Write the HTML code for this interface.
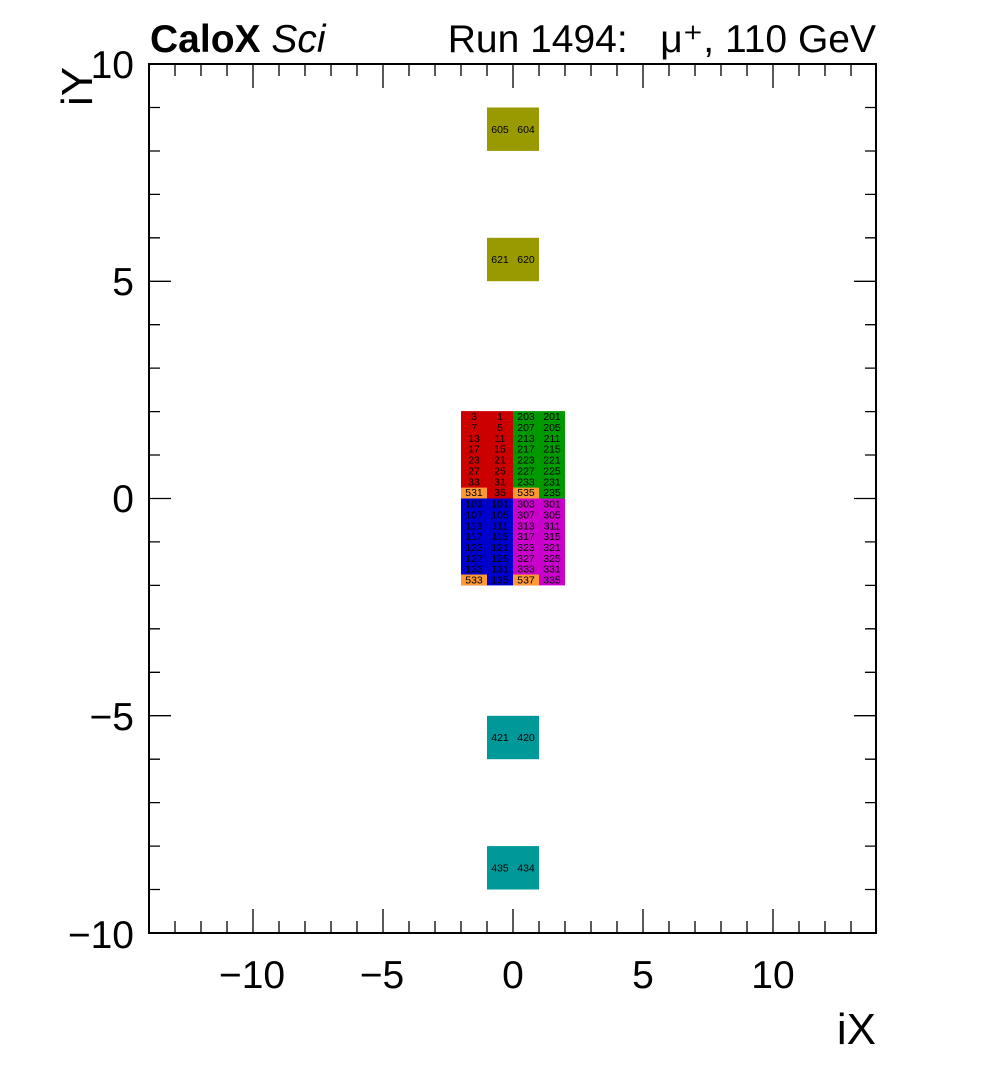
<!DOCTYPE html>
<html><head><meta charset="utf-8"><style>
body{margin:0;background:#fff;width:996px;height:1072px;overflow:hidden}
svg{display:block}
text{font-family:"Liberation Sans",sans-serif}
.c text{font-size:10.5px;text-anchor:middle;fill:#000}
</style></head><body>
<svg width="996" height="1072" viewBox="0 0 996 1072">
<rect x="0" y="0" width="996" height="1072" fill="#fff"/>
<rect x="487" y="107.5" width="52" height="43.4" fill="#999900"/>
<rect x="487" y="237.8" width="52" height="43.4" fill="#999900"/>
<rect x="487" y="715.8" width="52" height="43.4" fill="#009999"/>
<rect x="487" y="846.1" width="52" height="43.4" fill="#009999"/>
<rect x="461" y="411.1" width="52" height="87.4" fill="#cc0000"/>
<rect x="513" y="411.1" width="52" height="87.4" fill="#009900"/>
<rect x="461" y="498.5" width="52" height="86.9" fill="#0000cc"/>
<rect x="513" y="498.5" width="52" height="86.9" fill="#cc00cc"/>
<rect x="461" y="487.6" width="26" height="10.9" fill="#ff9933"/>
<rect x="513" y="487.6" width="26" height="10.9" fill="#ff9933"/>
<rect x="461" y="574.5" width="26" height="10.9" fill="#ff9933"/>
<rect x="513" y="574.5" width="26" height="10.9" fill="#ff9933"/>
<g class="c">
<text x="500" y="132.8">605</text><text x="526" y="132.8">604</text>
<text x="500" y="263.1">621</text><text x="526" y="263.1">620</text>
<text x="500" y="741.1">421</text><text x="526" y="741.1">420</text>
<text x="500" y="871.4">435</text><text x="526" y="871.4">434</text>
<g transform="translate(0,3.6)">
<text x="474" y="416.5">3</text><text x="500" y="416.5">1</text><text x="526" y="416.5">203</text><text x="552" y="416.5">201</text>
<text x="474" y="427.4">7</text><text x="500" y="427.4">5</text><text x="526" y="427.4">207</text><text x="552" y="427.4">205</text>
<text x="474" y="438.3">13</text><text x="500" y="438.3">11</text><text x="526" y="438.3">213</text><text x="552" y="438.3">211</text>
<text x="474" y="449.1">17</text><text x="500" y="449.1">15</text><text x="526" y="449.1">217</text><text x="552" y="449.1">215</text>
<text x="474" y="460.0">23</text><text x="500" y="460.0">21</text><text x="526" y="460.0">223</text><text x="552" y="460.0">221</text>
<text x="474" y="470.9">27</text><text x="500" y="470.9">25</text><text x="526" y="470.9">227</text><text x="552" y="470.9">225</text>
<text x="474" y="481.7">33</text><text x="500" y="481.7">31</text><text x="526" y="481.7">233</text><text x="552" y="481.7">231</text>
<text x="474" y="492.6">531</text><text x="500" y="492.6">35</text><text x="526" y="492.6">535</text><text x="552" y="492.6">235</text>
<text x="474" y="503.9">103</text><text x="500" y="503.9">101</text><text x="526" y="503.9">303</text><text x="552" y="503.9">301</text>
<text x="474" y="514.8">107</text><text x="500" y="514.8">105</text><text x="526" y="514.8">307</text><text x="552" y="514.8">305</text>
<text x="474" y="525.7">113</text><text x="500" y="525.7">111</text><text x="526" y="525.7">313</text><text x="552" y="525.7">311</text>
<text x="474" y="536.5">117</text><text x="500" y="536.5">115</text><text x="526" y="536.5">317</text><text x="552" y="536.5">315</text>
<text x="474" y="547.4">123</text><text x="500" y="547.4">121</text><text x="526" y="547.4">323</text><text x="552" y="547.4">321</text>
<text x="474" y="558.3">127</text><text x="500" y="558.3">125</text><text x="526" y="558.3">327</text><text x="552" y="558.3">325</text>
<text x="474" y="569.1">133</text><text x="500" y="569.1">131</text><text x="526" y="569.1">333</text><text x="552" y="569.1">331</text>
<text x="474" y="580.0">533</text><text x="500" y="580.0">135</text><text x="526" y="580.0">537</text><text x="552" y="580.0">335</text>
</g></g>
<rect x="149" y="64" width="727" height="869" fill="none" stroke="#000" stroke-width="2"/>
<g stroke="#000" stroke-width="1.3">
<path d="M175,933v-12M201,933v-12M227,933v-12M253,933v-24M279,933v-12M305,933v-12M331,933v-12M357,933v-12M383,933v-24M409,933v-12M435,933v-12M461,933v-12M487,933v-12M513,933v-24M539,933v-12M565,933v-12M591,933v-12M617,933v-12M643,933v-24M669,933v-12M695,933v-12M721,933v-12M747,933v-12M773,933v-24M799,933v-12M825,933v-12M851,933v-12"/>
<path d="M175,64v12M201,64v12M227,64v12M253,64v24M279,64v12M305,64v12M331,64v12M357,64v12M383,64v24M409,64v12M435,64v12M461,64v12M487,64v12M513,64v24M539,64v12M565,64v12M591,64v12M617,64v12M643,64v24M669,64v12M695,64v12M721,64v12M747,64v12M773,64v24M799,64v12M825,64v12M851,64v12"/>
<path d="M149,107.5h11M149,151h11M149,194.4h11M149,237.8h11M149,281.3h22M149,324.7h11M149,368.1h11M149,411.6h11M149,455h11M149,498.5h22M149,541.9h11M149,585.4h11M149,628.8h11M149,672.3h11M149,715.7h22M149,759.2h11M149,802.6h11M149,846.1h11M149,889.5h11"/>
<path d="M876,107.5h-11M876,151h-11M876,194.4h-11M876,237.8h-11M876,281.3h-22M876,324.7h-11M876,368.1h-11M876,411.6h-11M876,455h-11M876,498.5h-22M876,541.9h-11M876,585.4h-11M876,628.8h-11M876,672.3h-11M876,715.7h-22M876,759.2h-11M876,802.6h-11M876,846.1h-11M876,889.5h-11"/>
</g>
<g font-size="39" text-anchor="end">
<text x="134" y="78">10</text>
<text x="134" y="295">5</text>
<text x="134" y="512">0</text>
<text x="134" y="730">−5</text>
<text x="134" y="948">−10</text>
</g>
<g font-size="39" text-anchor="middle">
<text x="252" y="988">−10</text>
<text x="382" y="988">−5</text>
<text x="513" y="988">0</text>
<text x="643" y="988">5</text>
<text x="773" y="988">10</text>
</g>
<text x="876" y="1044" font-size="44" text-anchor="end">iX</text>
<text transform="translate(92,106) rotate(-90)" font-size="44">iY</text>
<text x="150" y="52" font-size="39"><tspan font-weight="bold">CaloX</tspan> <tspan font-style="italic">Sci</tspan></text>
<text x="876" y="52" font-size="39" text-anchor="end" xml:space="preserve">Run 1494:   μ⁺, 110 GeV</text>
</svg>
</body></html>
